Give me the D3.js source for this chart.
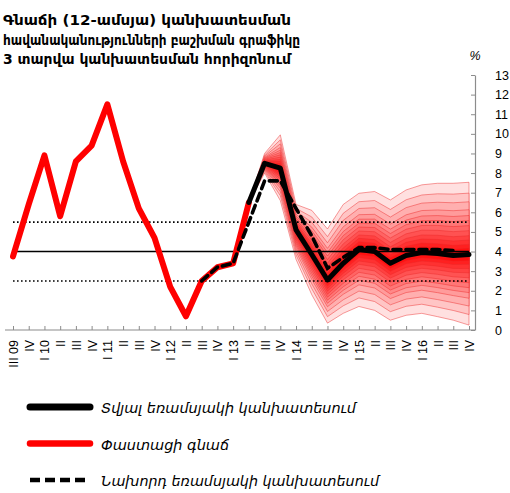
<!DOCTYPE html>
<html>
<head>
<meta charset="utf-8">
<script src="https://cdn.jsdelivr.net/npm/d3@7"></script>
<style>
    body { margin: 0; background: #fff; }
    svg { display: block; }
    .axis path, .axis line { stroke: #8c8c8c; }
    .axis text { font-family: "Liberation Sans", Arial, sans-serif; font-size: 12.5px; fill: #000; }
</style>
</head>
<body>
<svg id="fan-chart"></svg>
<script>
// QUARTER LABELS, III 09 - IV 16
var quarters = [ "III 09", "IV", "I 10", "II", "III", "IV", "I 11", "II", "III", "IV",
    "I 12", "II", "III", "IV", "I 13", "II", "III", "IV", "I 14", "II", "III", "IV",
    "I 15", "II", "III", "IV", "I 16", "II", "III", "IV" ];

// actual 12-month inflation, III 09 - II 13
var actualInflation = [ 3.75, 6.4, 8.9, 5.8, 8.6, 9.4, 11.5, 8.6, 6.2, 4.7, 2.2, 0.7, 2.5, 3.2, 3.4, 6.5 ];

// current quarter forecast, II 13 - IV 16
var currentStart = 15;
var currentForecast = [ 6.5, 8.5, 8.25, 5.1, 3.85, 2.55, 3.4, 4.1, 4.0, 3.4, 3.8, 3.95, 3.9, 3.8, 3.85 ];

// previous quarter forecast, III 12 - III 16
var previousStart = 12;
var previousForecast = [ 2.5, 3.2, 3.4, 5.5, 7.6, 7.6, 6.2, 4.8, 3.15, 3.7, 4.2, 4.2, 4.1, 4.1, 4.1, 4.1, 4.05 ];

// outer edges of the fan, II 13 - IV 16
var fanUpper = [ 6.5, 9.0, 9.95, 6.4, 6.1, 5.15, 6.4, 6.97, 7.06, 6.63, 7.14, 7.4, 7.48, 7.48, 7.53 ];
var fanLower = [ 6.5, 8.0, 6.6, 3.6, 1.8, 0.35, 0.85, 1.2, 1.0, 0.5, 0.75, 0.85, 0.68, 0.5, 0.25 ];

// relative position of each band edge between the forecast and the outer edge
var bandLevels = [ 1, 0.85, 0.73, 0.62, 0.54, 0.47, 0.40, 0.33, 0.26, 0.20, 0.14, 0.09, 0.04 ];

var yTicks = d3.range( 0, 14 );
var targetLine = 4;
var bandLines = [ 5.5, 2.5 ];

var titleLines = [
    "Գնաճի (12-ամսյա) կանխատեսման",
    "հավանականությունների բաշխման գրաֆիկը",
    "3 տարվա կանխատեսման հորիզոնում"
];
var legendNames = [
    "Տվյալ եռամսյակի կանխատեսում",
    "Փաստացի գնաճ",
    "Նախորդ եռամսյակի կանխատեսում"
];

var svgWidth = 510;
var svgHeight = 493;

var svg = d3.select( "#fan-chart" )
    .attr( "width", svgWidth )
    .attr( "height", svgHeight );

var x = d3.scalePoint()
    .domain( d3.range( quarters.length ) )
    .range( [ 13, 469 ] );

var y = d3.scaleLinear()
    .domain( [ 0, 13 ] )
    .range( [ 330, 75 ] );

var line = d3.line()
    .x( function ( d ) { return x( d.i ); } )
    .y( function ( d ) { return y( d.v ); } );

function toPoints( values, start ) {
    return values.map( function ( v, k ) {
        return { i: start + k, v: v };
    } );
}

// FAN BANDS, outermost first so the darker ones sit on top
var fanData = currentForecast.map( function ( c, k ) {
    return { i: currentStart + k, c: c, hi: fanUpper[ k ], lo: fanLower[ k ] };
} );

var bandColor = d3.interpolateRgb( "#ffe0e0", "#ff0000" );

bandLevels.forEach( function ( f, n ) {
    var area = d3.area()
        .x( function ( d ) { return x( d.i ); } )
        .y0( function ( d ) { return y( d.c - f * ( d.c - d.lo ) ); } )
        .y1( function ( d ) { return y( d.c + f * ( d.hi - d.c ) ); } );

    svg.append( "path" )
        .datum( fanData )
        .attr( "d", area )
        .attr( "fill", bandColor( Math.pow( n / ( bandLevels.length - 1 ), 0.85 ) ) )
        .attr( "stroke", "rgba(235,40,40,0.45)" )
        .attr( "stroke-width", 1 );
} );

// reference lines
svg.append( "line" )
    .attr( "x1", x( 0 ) ).attr( "x2", x( quarters.length - 1 ) )
    .attr( "y1", y( targetLine ) ).attr( "y2", y( targetLine ) )
    .attr( "stroke", "#000" )
    .attr( "stroke-width", 1.6 );

svg.selectAll( ".band-line" )
    .data( bandLines )
    .enter()
    .append( "line" )
    .attr( "class", "band-line" )
    .attr( "x1", x( 0 ) ).attr( "x2", x( quarters.length - 1 ) )
    .attr( "y1", function ( d ) { return y( d ); } )
    .attr( "y2", function ( d ) { return y( d ); } )
    .attr( "stroke", "#000" )
    .attr( "stroke-width", 1.6 )
    .attr( "stroke-dasharray", "1.6,2.4" );

// AXES
var xAxis = d3.axisBottom( x )
    .tickSize( -4 )
    .tickSizeOuter( 0 )
    .tickFormat( function ( i ) { return quarters[ i ]; } );

var gx = svg.append( "g" )
    .attr( "class", "axis" )
    .attr( "transform", "translate(0," + y( 0 ) + ")" )
    .call( xAxis );

gx.select( ".domain" ).remove();
gx.append( "line" )
    .attr( "x1", 5 ).attr( "x2", 475 )
    .attr( "stroke", "#8c8c8c" )
    .attr( "stroke-width", 1.2 );

gx.selectAll( "text" )
    .attr( "y", 0 )
    .attr( "x", -10 )
    .attr( "dy", "0.36em" )
    .attr( "transform", "rotate(-90)" )
    .style( "text-anchor", "end" );

var yAxis = d3.axisRight( y )
    .tickValues( yTicks )
    .tickSize( -4 )
    .tickSizeOuter( 0 )
    .tickPadding( 20 );

svg.append( "g" )
    .attr( "class", "axis" )
    .attr( "transform", "translate(475,0)" )
    .call( yAxis )
    .select( ".domain" )
    .attr( "stroke-width", 1.2 );

svg.append( "text" )
    .attr( "x", 475 )
    .attr( "y", 60 )
    .attr( "text-anchor", "middle" )
    .attr( "font-family", "Liberation Sans, Arial, sans-serif" )
    .attr( "font-style", "italic" )
    .attr( "font-size", 12.5 )
    .text( "%" );

// LINES
svg.append( "path" )
    .datum( toPoints( actualInflation, 0 ) )
    .attr( "d", line )
    .attr( "fill", "none" )
    .attr( "stroke", "#ff0000" )
    .attr( "stroke-width", 6 )
    .attr( "stroke-linejoin", "round" )
    .attr( "stroke-linecap", "round" );

svg.append( "path" )
    .datum( toPoints( currentForecast, currentStart ) )
    .attr( "d", line )
    .attr( "fill", "none" )
    .attr( "stroke", "#000" )
    .attr( "stroke-width", 5 )
    .attr( "stroke-linejoin", "round" )
    .attr( "stroke-linecap", "round" );

svg.append( "path" )
    .datum( toPoints( previousForecast, previousStart ) )
    .attr( "d", line )
    .attr( "fill", "none" )
    .attr( "stroke", "#000" )
    .attr( "stroke-width", 3.6 )
    .attr( "stroke-dasharray", "8,5" )
    .attr( "stroke-linecap", "round" );

// TITLE
var titleWidths = [ 288, 297, 288 ];
svg.selectAll( ".title" )
    .data( titleLines )
    .enter()
    .append( "text" )
    .attr( "class", "title" )
    .attr( "x", 3 )
    .attr( "y", function ( d, i ) { return 25 + i * 19.5; } )
    .attr( "font-family", "DejaVu Sans, sans-serif" )
    .attr( "font-weight", "bold" )
    .attr( "font-size", 13.5 )
    .attr( "textLength", function ( d, i ) { return titleWidths[ i ]; } )
    .attr( "lengthAdjust", "spacingAndGlyphs" )
    .text( function ( d ) { return d; } );

// LEGEND
var legendStyles = [
    { color: "#000", width: 7, dash: null },
    { color: "#ff0000", width: 6.5, dash: null },
    { color: "#000", width: 4.5, dash: "10,5" }
];
var legendWidths = [ 255, 128, 278 ];

var legend = svg.selectAll( ".legend" )
    .data( legendNames )
    .enter()
    .append( "g" )
    .attr( "class", "legend" )
    .attr( "transform", function ( d, i ) { return "translate(0," + ( 407 + i * 36.5 ) + ")"; } );

legend.append( "line" )
    .attr( "x1", 30 ).attr( "x2", 90 )
    .attr( "stroke", function ( d, i ) { return legendStyles[ i ].color; } )
    .attr( "stroke-width", function ( d, i ) { return legendStyles[ i ].width; } )
    .attr( "stroke-dasharray", function ( d, i ) { return legendStyles[ i ].dash; } )
    .attr( "stroke-linecap", function ( d, i ) { return legendStyles[ i ].dash ? "butt" : "round"; } );

legend.append( "text" )
    .attr( "x", 101 )
    .attr( "y", 6 )
    .attr( "font-family", "DejaVu Sans, sans-serif" )
    .attr( "font-style", "italic" )
    .attr( "font-size", 14 )
    .attr( "textLength", function ( d, i ) { return legendWidths[ i ]; } )
    .attr( "lengthAdjust", "spacingAndGlyphs" )
    .text( function ( d ) { return d; } );
</script>
</body>
</html>
